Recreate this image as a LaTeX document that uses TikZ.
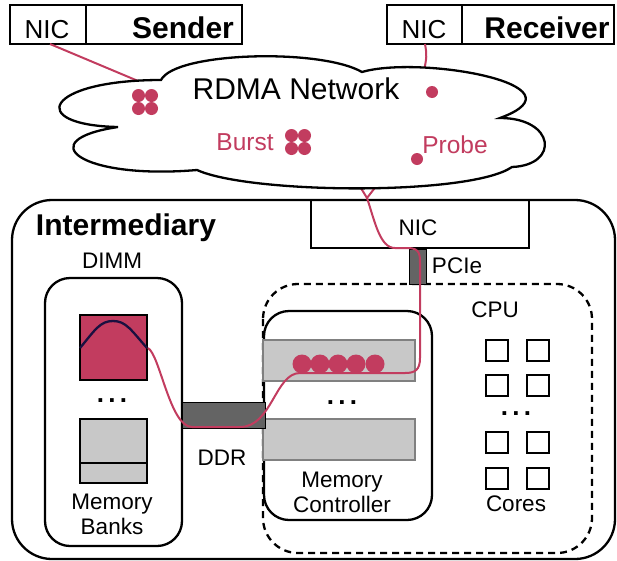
\documentclass[tikz,border=0pt]{standalone}
\usepackage{fontspec}
\setmainfont{Liberation Sans}
\definecolor{burst}{HTML}{C23C5F}
\definecolor{bankgray}{HTML}{C8C8C8}
\definecolor{busgray}{HTML}{646464}
\definecolor{wave}{HTML}{1A1040}

\begin{document}
\begin{tikzpicture}[x=1pt, y=-1pt,
    lbl/.style={anchor=base, inner sep=0pt, font=\fontsize{22.5}{25}\selectfont},
    two/.style={anchor=center, inner sep=0pt, align=center, font=\fontsize{22.5}{25}\selectfont},
    title/.style={anchor=base, inner sep=0pt, font=\fontsize{30}{32}\selectfont\bfseries},
    dots/.style={anchor=base, inner sep=0pt, font=\fontsize{26}{28}\selectfont\bfseries},
    box/.style={draw, line width=2.3pt},
    bar/.style={draw=gray, fill=bankgray, line width=1.8pt},
    bus/.style={fill=busgray},
    pkt/.style={circle, fill=burst, inner sep=0pt, minimum size=13pt},
    trace/.style={draw=burst, line width=2pt}]
    \useasboundingbox (0,0) rectangle (617,560);

    % Sender and receiver
    \draw[box] (10,5) rectangle (242,44);
    \draw[box] (86,5) -- (86,44);
    \node[lbl, font=\fontsize{26}{28}\selectfont] (sndnic) at (47,38) {NIC};
    \node[title] (snd) at (183,38) {Sender};
    \draw[box] (387,5) rectangle (614,44);
    \draw[box] (462,5) -- (462,44);
    \node[lbl, font=\fontsize{26}{28}\selectfont] (rcvnic) at (424,38) {NIC};
    \node[title] (rcv) at (547,38) {Receiver};

    % Links into the network
    \coordinate (sndport) at (50,44);
    \coordinate (rcvport) at (425,44);
    \coordinate (vtx) at (367,198);
    \draw[trace] (sndport) -- (150,86);
    \draw[trace] (rcvport) .. controls (427,56) .. (423,76);
    \draw[trace] (356,180) -- (vtx) -- (384,176);

    % RDMA network cloud
    \draw[line width=2.3pt, fill=white] (161,80)
        .. controls (175,52) and (320,48) .. (362,72)
        .. controls (420,55) and (590,85) .. (500,118)
        .. controls (555,118) and (560,165) .. (512,167)
        .. controls (470,196) and (250,194) .. (197,170)
        .. controls (80,180) and (30,140) .. (118,127)
        .. controls (25,125) and (45,80) .. (161,80) -- cycle;
    \node[lbl, font=\fontsize{30}{32}\selectfont] (net) at (296,99) {RDMA Network};
    \node[lbl, font=\fontsize{24.5}{26}\selectfont, text=burst] (burst) at (245,150) {Burst};
    \node[lbl, font=\fontsize{24.5}{26}\selectfont, text=burst] (probe) at (455,153) {Probe};
    \foreach \dx in {-6.5,6.5}
        \foreach \dy in {-6.5,6.5} {
            \node[pkt] (a\dx\dy) at (145+\dx,102+\dy) {};
            \node[pkt] (b\dx\dy) at (298+\dx,142+\dy) {};
        }
    \node[pkt, minimum size=12pt] (rcvpkt) at (432,92) {};
    \node[pkt, minimum size=12pt] (netpkt) at (417,159) {};

    % Intermediary
    \draw[box, rounded corners=40pt] (12,200) rectangle (615,559);
    \node[title] (inter) at (126,235) {Intermediary};
    \draw[box] (311,200) rectangle (529,248);
    \node[lbl] (nic) at (418,235) {NIC};

    % CPU with memory controller
    \draw[line width=2.3pt, dash pattern=on 7pt off 5pt, rounded corners=35pt] (263,284) rectangle (592,553);
    \node[lbl] (cpu) at (495,317) {CPU};
    \draw[box, rounded corners=25pt] (264,311) rectangle (432,520);
    \draw[bar] (263,340) rectangle (415,381);
    \draw[bar] (263,419) rectangle (415,460);
    \node[dots] (mcdots) at (342,404) {.\,.\,.};
    \node[two] (mc) at (342,492) {Memory\\Controller};
    \foreach \y in {340,375,432,468}
        \foreach \x in {486,527}
            \draw[box] (\x,\y) rectangle ++(22,21);
    \node[dots] (coredots) at (516,415) {.\,.\,.};
    \node[lbl] (cores) at (516,511) {Cores};

    % DIMM
    \node[lbl] (dimm) at (112,268) {DIMM};
    \draw[box, rounded corners=25pt] (45,278) rectangle (182,546);
    \draw[box, fill=burst] (80,315) rectangle (147,380);
    \draw[wave, line width=2.3pt] (80,348) .. controls (95,330) and (100,321) .. (113,321)
        .. controls (126,321) and (131,330) .. (147,348);
    \node[dots] (bankdots) at (112,402) {.\,.\,.};
    \draw[box, fill=bankgray] (80,419) rectangle (147,483);
    \draw[box] (80,463) -- (147,463);
    \node[two] (banks) at (112,514) {Memory\\Banks};

    % Buses
    \draw[bus] (182,402) rectangle (265,428);
    \node[lbl] (ddr) at (222,465) {DDR};
    \draw[bus] (409,249) rectangle (426,284);
    \node[lbl] (pcie) at (457,273) {PCIe};

    % Path of the burst
    \draw[trace] (vtx) .. controls (375,222) and (380,248) .. (395,248) -- (408,248)
        .. controls (420,248) and (420,255) .. (420,264) -- (420,358)
        .. controls (420,370) and (415,373) .. (405,373) -- (300,373)
        .. controls (275,373) and (272,427) .. (240,427) -- (192,427)
        .. controls (170,427) and (160,355) .. (148,348);
    \foreach \x in {302,320,338,356,375}
        \node[pkt, minimum size=19pt] (q\x) at (\x,364) {};
\end{tikzpicture}
\end{document}
